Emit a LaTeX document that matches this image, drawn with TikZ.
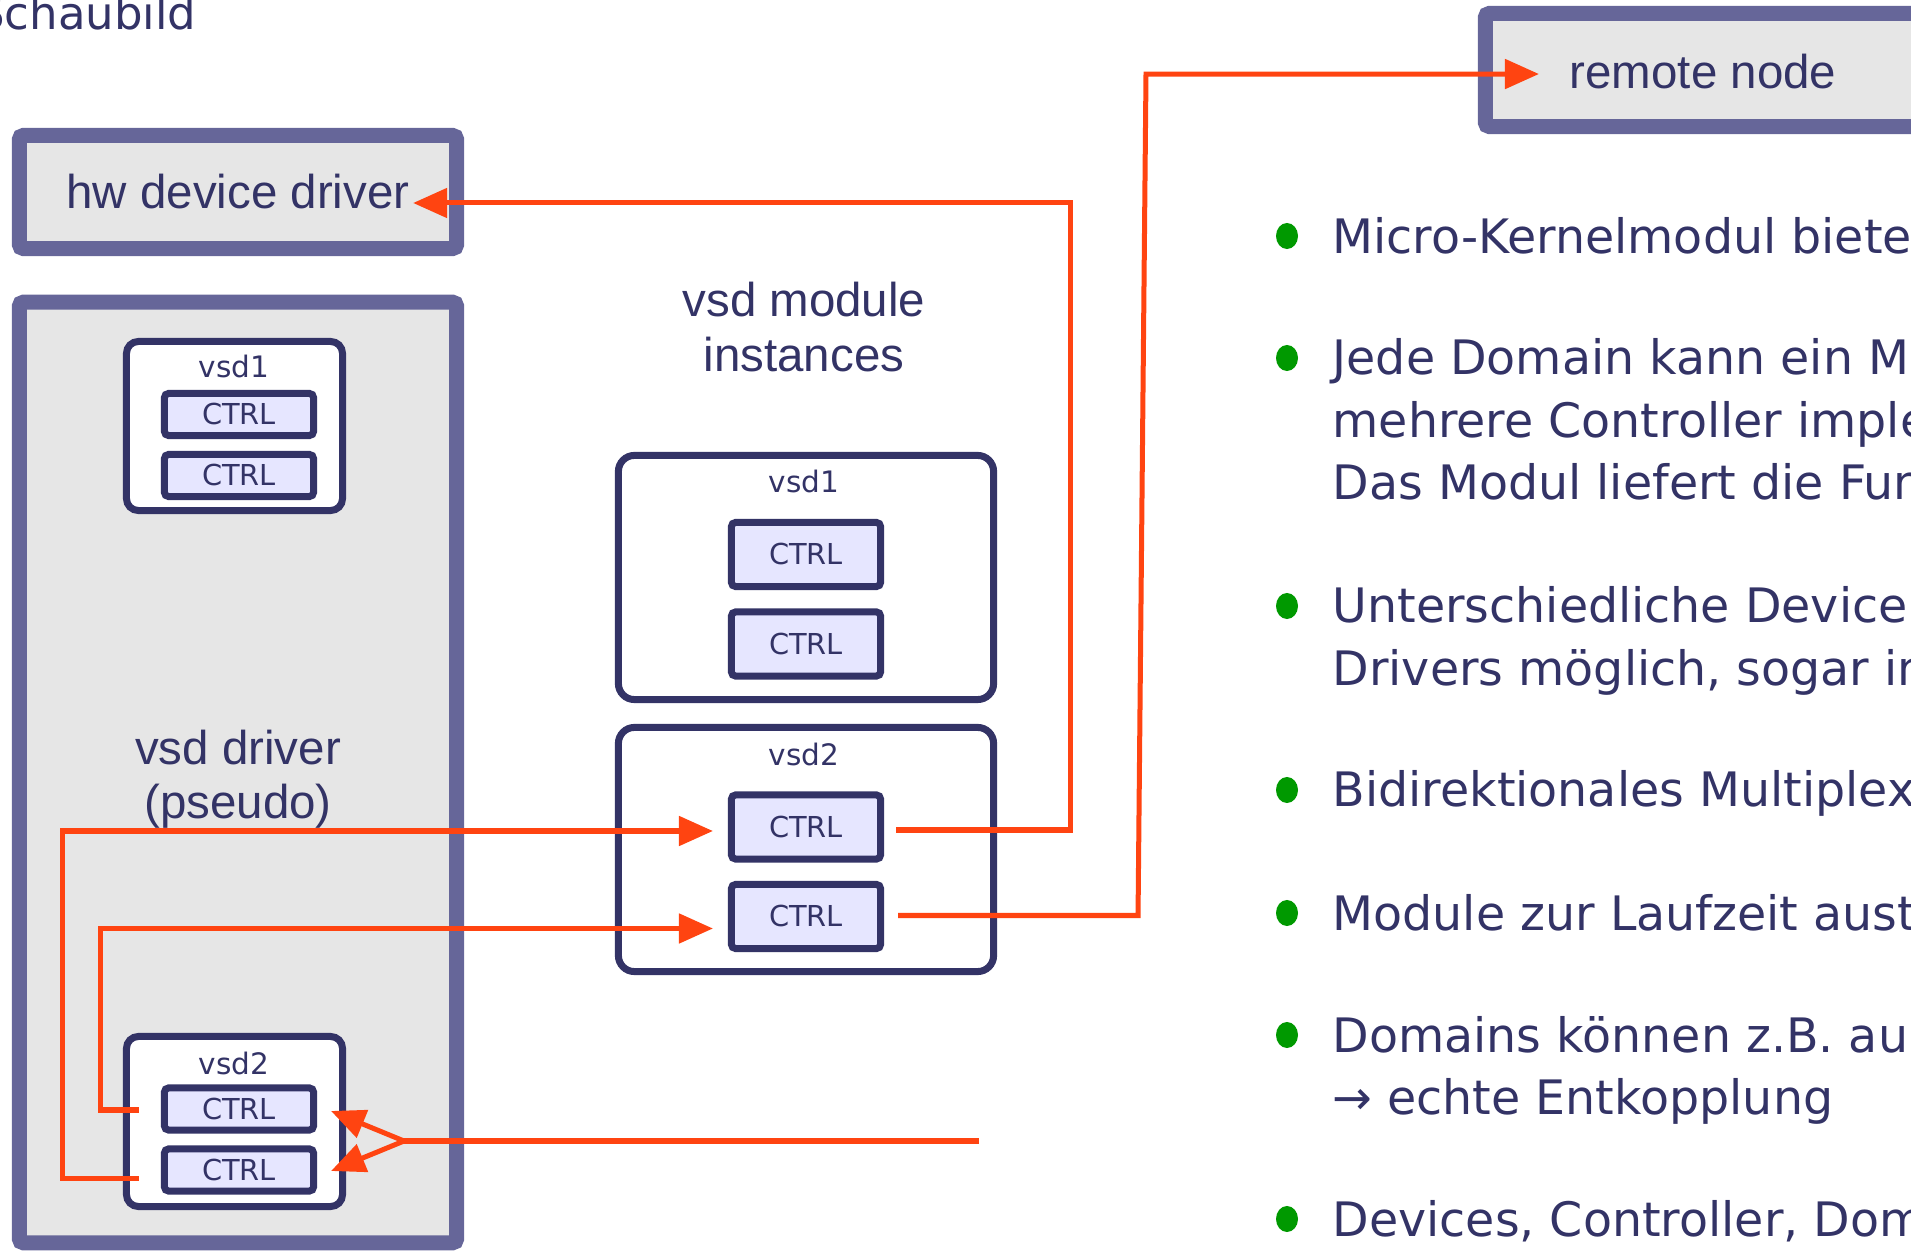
\documentclass[tikz,border=0pt]{standalone}
\usepackage{fontspec}
\usepackage{xcolor}
\usetikzlibrary{arrows.meta, calc}
\newfontfamily\dejavu{DejaVu Sans}
\newfontfamily\arial{Liberation Sans}
\definecolor{navy}{RGB}{51,51,102}
\definecolor{frameclr}{RGB}{102,102,153}
\definecolor{grayfill}{RGB}{230,230,230}
\definecolor{ctrlfill}{RGB}{230,230,255}
\definecolor{signal}{RGB}{255,68,17}
\definecolor{bulletclr}{RGB}{0,153,0}

\begin{document}
\begin{tikzpicture}[
  x=0.01cm, y=-0.01cm,
  frame/.style={rectangle, rounded corners=0.04cm, draw=frameclr, line width=0.15cm,
    fill=grayfill, minimum width=4.37cm, minimum height=1.13cm, inner sep=0,
    font=\arial\fontsize{13.5}{15.4}\selectfont, text=navy},
  vsdbox/.style={rectangle, rounded corners=0.12cm, draw=navy, line width=0.07cm, fill=white},
  ctrl/.style={rectangle, rounded corners=0.04cm, draw=navy, line width=0.07cm, fill=ctrlfill,
    minimum width=1.49cm, inner sep=0, font=\dejavu\fontsize{8.2}{10}\selectfont, text=navy},
  tag/.style={anchor=base, inner sep=0, font=\dejavu\fontsize{8.4}{10}\selectfont, text=navy},
  label/.style={align=center, inner sep=0, font=\arial\fontsize{13.5}{15.4}\selectfont, text=navy},
  item/.style={anchor=base west, inner sep=0, font=\dejavu\fontsize{13.5}{17.8}\selectfont, text=navy},
  link/.style={-{Triangle[length=0.34cm, width=0.29cm]}, line width=0.05cm, signal},
  wire/.style={line width=0.05cm, signal}
]
\useasboundingbox (0,0) rectangle (1911,1252);

% Title
\node[anchor=base east, inner sep=0, font=\dejavu\fontsize{12.8}{15}\selectfont, text=navy]
  (title) at (197,30) {Schaubild};

% Outer boxes
\node[frame] (hw) at (238,192) {hw device driver};
\node[frame, minimum height=9.40cm] (drv) at (238,772.5) {};
\node[label] (drvlabel) at (238,779) {vsd driver\\(pseudo)};
\node[frame, minimum width=5.07cm] (remotebox) at (1739,70) {};
\node[anchor=base west, inner sep=0, font=\arial\fontsize{13.5}{15.4}\selectfont, text=navy]
  (remote) at (1569,89) {remote node};

% vsd instances inside the driver
\node[vsdbox, minimum width=2.16cm, minimum height=1.69cm] (lv1) at (234.5,426) {};
\node[tag] (lv1tag) at (234,378) {vsd1};
\node[ctrl, minimum height=0.42cm] (lv1a) at (239,414.5) {CTRL};
\node[ctrl, minimum height=0.42cm] (lv1b) at (239,475.5) {CTRL};

\node[vsdbox, minimum width=2.16cm, minimum height=1.70cm] (lv2) at (234.5,1121.5) {};
\node[tag] (lv2tag) at (234,1074) {vsd2};
\node[ctrl, minimum height=0.42cm] (lv2a) at (239,1109) {CTRL};
\node[ctrl, minimum height=0.42cm] (lv2b) at (239,1170) {CTRL};

% vsd module instances
\node[label] (modlabel) at (804,327) {vsd module\\instances};

\node[vsdbox, rounded corners=0.16cm, minimum width=3.75cm, minimum height=2.44cm] (mv1) at (806,577.5) {};
\node[tag] (mv1tag) at (804,493) {vsd1};
\node[ctrl, minimum height=0.64cm] (mv1a) at (806,554.5) {CTRL};
\node[ctrl, minimum height=0.64cm] (mv1b) at (806,644) {CTRL};

\node[vsdbox, rounded corners=0.16cm, minimum width=3.75cm, minimum height=2.44cm] (mv2) at (806,849.5) {};
\node[tag] (mv2tag) at (804,765) {vsd2};
\node[ctrl, minimum height=0.64cm] (mv2a) at (806,827) {CTRL};
\node[ctrl, minimum height=0.64cm] (mv2b) at (806,916.5) {CTRL};

% Connections
\draw[link] ($(mv2a.east)+(12,3)$) -- ++(174,0) |- ($(hw.east)+(-51,11)$);
\coordinate (rin) at ($(remote.west)+(-30,2)$);
\draw[link] ($(mv2b.east)+(14,-1)$) -- ++(240,0) -- ($(rin)+(-393,0)$) -- (rin);
\draw[link] ($(lv2a.west)+(-22,1)$) -- ++(-38,0) |- ($(mv2b.west)+(-15,12)$);
\draw[link] ($(lv2b.west)+(-22,8)$) -- ++(-76,0) |- ($(mv2a.west)+(-15,4)$);

\coordinate (loose) at (979,1141);
\coordinate (fork) at (404,1141);
\draw[wire] (loose) -- (fork);
\draw[link] (fork) -- ($(lv2a.east)+(14,2)$);
\draw[link] (fork) -- ($(lv2b.east)+(14,1)$);

% Bullet list
\foreach \yy in {236,358,606,790,913,1035,1219}
  \fill[bulletclr] (1287,\yy) ellipse [x radius=0.11cm, y radius=0.13cm];

\foreach \yy/\txt [count=\i] in {254/{Micro-Kernelmodul biete},
    375/{Jede Domain kann ein M}, 437.5/{mehrere Controller imple}, 500/{Das Modul liefert die Fun},
    623/{Unterschiedliche Device}, 685.5/{Drivers möglich, sogar in},
    807/{Bidirektionales Multiplex},
    930/{Module zur Laufzeit aust},
    1052/{Domains können z.B. au}, 1114.5/{→ echte Entkopplung},
    1236/{Devices, Controller, Dom}}
  \node[item] (line\i) at (1332,\yy) {\txt};

\end{tikzpicture}
\end{document}
